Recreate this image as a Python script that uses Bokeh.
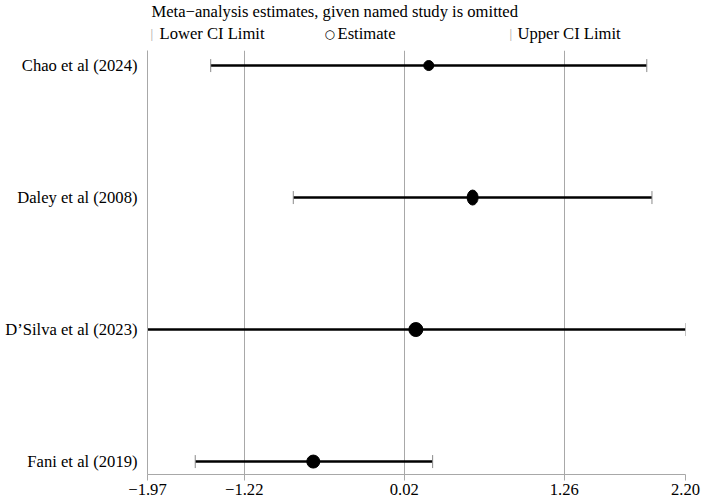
import math
from bokeh.plotting import figure
from bokeh.layouts import column
from bokeh.models import Range1d, FixedTicker, Label, ColumnDataSource
from bokeh.embed import file_html
from bokeh.resources import INLINE

# ---- data ----
studies = ["Chao et al (2024)", "Daley et al (2008)", "D\u2019Silva et al (2023)", "Fani et al (2019)"]
estimate = [0.21, 0.55, 0.11, -0.685]
lower_ci = [-1.48, -0.84, -1.97, -1.60]
upper_ci = [1.90, 1.94, 2.20, 0.24]
x_ticks = [-1.97, -1.22, 0.02, 1.26, 2.20]
x_tick_labels = ["\u22121.97", "\u22121.22", "0.02", "1.26", "2.20"]
title_text = "Meta\u2212analysis estimates, given named study is omitted"
legend_texts = ["Lower CI Limit", "Estimate", "Upper CI Limit"]

# ---- styles ----
marker_w = [10, 11, 14, 13]
marker_h = [10, 15, 14, 13]
GREY = "#a8a8a8"
FONT = "Liberation Serif"
FS = "16.6px"

rows = list(range(1, len(studies) + 1))
src = ColumnDataSource(dict(y=rows, est=estimate, lo=lower_ci, hi=upper_ci,
                            mw=marker_w, mh=marker_h))

# ---------------- header (title + key) ----------------
# frame of this figure is aligned with the main plot frame (pixels 147..685)
h = figure(width=708, height=50, output_backend="svg", toolbar_location=None,
           x_range=Range1d(147, 685), y_range=Range1d(50, 0),
           min_border=0, min_border_left=0, min_border_right=0,
           min_border_top=0, min_border_bottom=0)
h.axis.visible = False
h.grid.visible = False
h.outline_line_color = None
h.background_fill_color = "white"
h.border_fill_color = "white"

def lab(x, y, text, color="black", size=FS, font=FONT):
    h.add_layout(Label(x=x, y=y, text=text, text_font=font, text_font_size=size,
                       text_color=color, text_baseline="middle", text_align="left"))

lab(151, 11, title_text)
lab(150, 33, "|", color="#a0a0a0", size="13px")
lab(159, 33, legend_texts[0])
lab(324, 33, "\u25cb", size="12px", font="DejaVu Sans")
lab(337, 33, legend_texts[1])
lab(509, 33, "|", color="#a0a0a0", size="13px")
lab(517, 33, legend_texts[2])

# ---------------- main plot ----------------
p = figure(width=708, height=454, output_backend="svg", toolbar_location=None,
           x_range=Range1d(x_ticks[0], x_ticks[-1]),
           y_range=Range1d(4.098, 0.886),
           min_border_left=147, min_border_right=23, min_border_top=0, min_border_bottom=30)
p.outline_line_color = None
p.background_fill_color = "white"
p.border_fill_color = "white"

p.ygrid.visible = False
p.xgrid.ticker = FixedTicker(ticks=x_ticks[1:-1])
p.xgrid.grid_line_color = GREY
p.xgrid.grid_line_width = 1

xa = p.xaxis[0]
xa.ticker = FixedTicker(ticks=x_ticks)
xa.major_label_overrides = {t: l for t, l in zip(x_ticks, x_tick_labels)}
xa.axis_line_color = GREY
xa.major_tick_line_color = GREY
xa.major_tick_out = 6
xa.major_tick_in = 0
xa.minor_tick_line_color = None
xa.major_label_text_font = FONT
xa.major_label_text_font_size = FS
xa.major_label_text_color = "black"
xa.major_label_standoff = 3

ya = p.yaxis[0]
ya.ticker = FixedTicker(ticks=rows)
ya.major_label_overrides = {r: s for r, s in zip(rows, studies)}
ya.axis_line_color = GREY
ya.major_tick_line_color = None
ya.major_tick_out = 0
ya.major_tick_in = 0
ya.minor_tick_line_color = None
ya.major_label_text_font = FONT
ya.major_label_text_font_size = FS
ya.major_label_text_color = "black"
ya.major_label_standoff = 10

p.segment(x0="lo", y0="y", x1="hi", y1="y", source=src, line_color="black", line_width=2.5)
p.scatter(x="lo", y="y", source=src, marker="dash", angle=math.pi / 2, size=13,
          line_color="#8a8a8a", line_width=1)
p.scatter(x="hi", y="y", source=src, marker="dash", angle=math.pi / 2, size=13,
          line_color="#8a8a8a", line_width=1)
p.ellipse(x="est", y="y", width="mw", height="mh", width_units="screen", height_units="screen",
          source=src, fill_color="black", line_color="black")

layout = column(h, p, spacing=0)
open("out.html", "w").write(file_html(layout, INLINE))
